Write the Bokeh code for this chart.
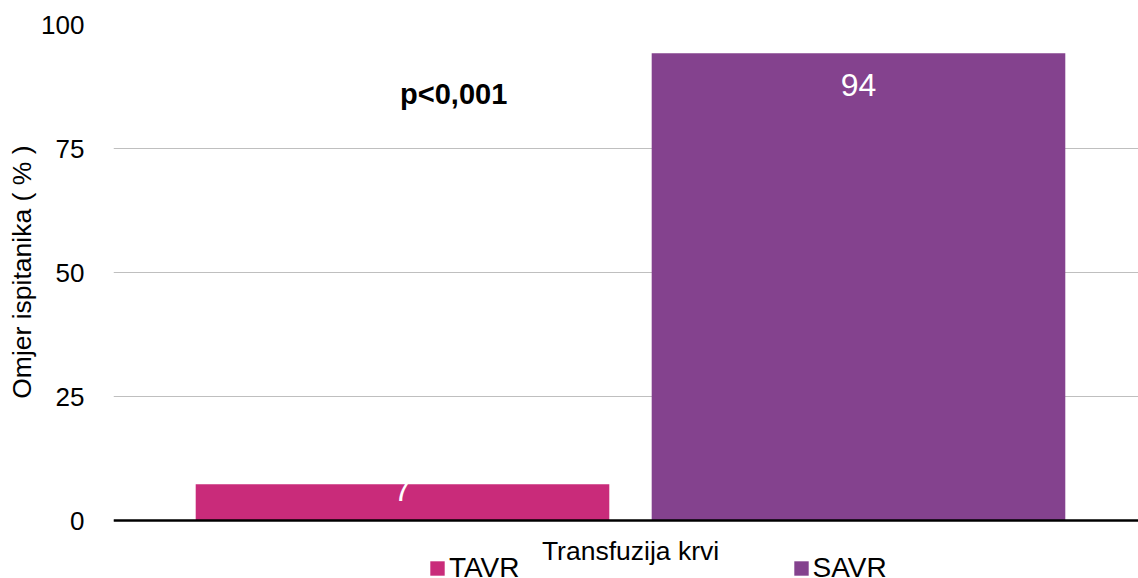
from bokeh.plotting import figure
from bokeh.models import (Range1d, FixedTicker, ColumnDataSource, Legend, LegendItem,
                          Span, Title)
from bokeh.core.properties import value
from bokeh.embed import file_html
from bokeh.resources import INLINE

# ---- data ----
categories = ["TAVR", "SAVR"]
values = [7.3, 94.2]
value_labels = ["7", "94"]
colors = ["#C92B7A", "#84428E"]
group_label = "Transfuzija krvi"
y_ticks = [0, 25, 50, 75, 100]
y_title = "Omjer ispitanika ( % )"
p_text = "p<0,001"

FONT = "Liberation Sans"

# frame extends below zero so the category label and legend can sit under the axis line
p = figure(width=1138, height=578, output_backend="svg", toolbar_location=None,
           x_range=Range1d(-0.5, 0.4913), y_range=Range1d(-11.69, 100),
           min_border_left=113, min_border_right=0, min_border_top=24, min_border_bottom=0)
p.outline_line_color = None
p.background_fill_color = "white"
p.border_fill_color = "white"

# bar positions within the group (layout)
offsets = [-0.2205, 0.2205]
src = ColumnDataSource(dict(x=offsets, top=values, cat=categories, color=colors,
                            lab=value_labels, lab_off=[6, 32]))

p.ygrid.ticker = FixedTicker(ticks=y_ticks)
p.ygrid.grid_line_color = "#BFBFBF"
p.ygrid.grid_line_width = 1
p.xgrid.grid_line_color = None

r = p.vbar(x="x", top="top", bottom=0, width=0.4, fill_color="color", line_color=None, source=src)

# zero axis line
p.add_layout(Span(location=0, dimension="width", line_color="black", line_width=2.5))

# data labels (white, inside end)
p.text(x="x", y="top", text="lab", source=src, text_color="white",
       text_font=value(FONT), text_font_size="32px", text_align="center",
       text_baseline="alphabetic", y_offset="lab_off")

# p-value annotation
p.text(x=[-0.171], y=[85.9], text=[p_text], text_font=value(FONT), text_font_size="29px",
       text_font_style="bold", text_color="black", text_align="center", text_baseline="alphabetic")

# category (x axis) title
p.text(x=[0.0], y=[-6.05], text=[group_label], text_font=value(FONT), text_font_size="26.5px",
       text_color="black", text_align="center", text_baseline="alphabetic")

# axes
p.xaxis.visible = False
p.yaxis.ticker = FixedTicker(ticks=y_ticks)
p.yaxis.axis_line_color = None
p.yaxis.major_tick_line_color = None
p.yaxis.minor_tick_line_color = None
p.yaxis.major_label_standoff = 23
p.yaxis.major_label_text_font = FONT
p.yaxis.major_label_text_font_size = "26px"
p.yaxis.major_label_text_color = "black"

ytitle = Title(text=y_title, align="right", offset=121, standoff=4,
               text_font=FONT, text_font_size="26.5px", text_font_style="normal",
               text_color="black")
p.add_layout(ytitle, "left")

# legend
items = [LegendItem(label=c, renderers=[r], index=i) for i, c in enumerate(categories)]
legend = Legend(items=items, orientation="horizontal", location=(315, -6),
                glyph_width=18, glyph_height=18, label_standoff=3, spacing=272,
                padding=0, margin=0, border_line_color=None, background_fill_alpha=0,
                label_text_font=FONT, label_text_font_size="28px", label_text_color="black")
p.add_layout(legend, "center")

open("out.html", "w").write(file_html(p, INLINE))
